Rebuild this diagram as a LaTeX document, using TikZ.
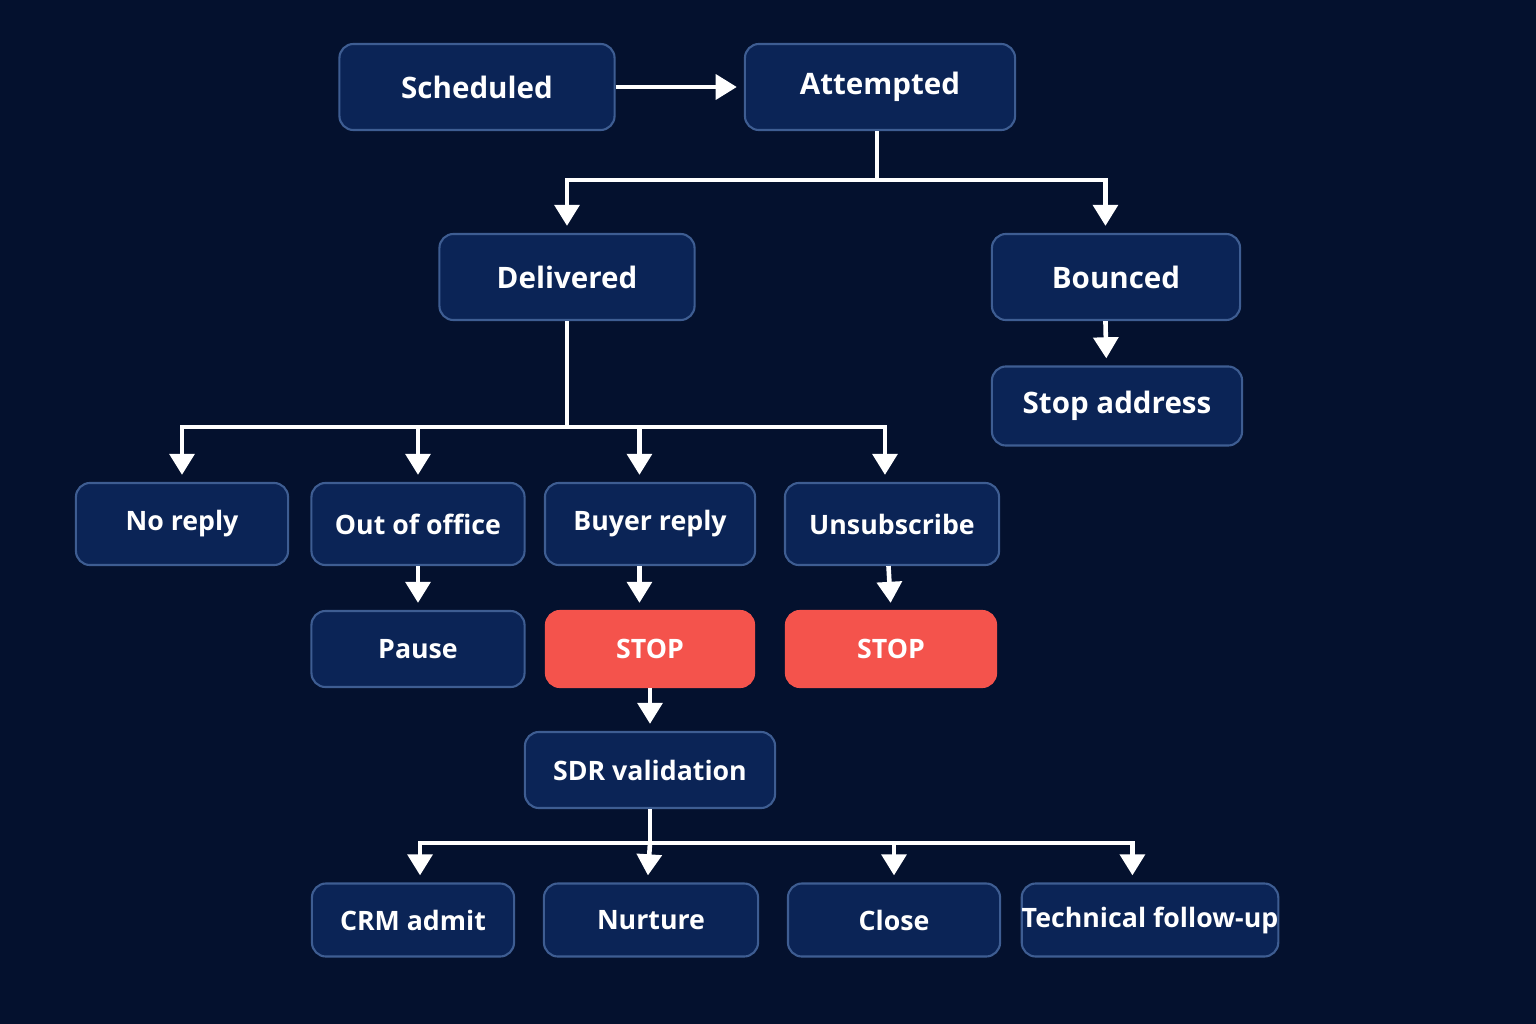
\documentclass[tikz,border=0pt]{standalone}
\usepackage{fontspec}
\setmainfont{Open Sans}
\usetikzlibrary{arrows.meta}
\definecolor{bgBlue}{HTML}{04112E}
\definecolor{boxBlue}{HTML}{0B2456}
\definecolor{boxLine}{HTML}{3E5D92}
\definecolor{stopRed}{HTML}{F4534C}
\tikzset{
  fState/.style={rectangle, rounded corners=4pt, draw=boxLine, line width=0.6pt, fill=boxBlue, text=white, font=\fontsize{7.6}{9}\selectfont\bfseries, inner sep=0pt},
  fBig/.style={fState, font=\fontsize{8.4}{10}\selectfont\bfseries},
  fStop/.style={fState, fill=stopRed, draw=stopRed},
  fArrow/.style={draw=white, line width=1.3pt, -{Triangle[length=6pt,width=7pt]}, shorten >=2pt},
  fLine/.style={draw=white, line width=1.3pt}
}
\begin{document}
\begin{tikzpicture}[x=0.01cm, y=-0.01cm]
    \fill[bgBlue] (0,0) rectangle (1536,1024);
    % top row
    \node (scheduled) [fBig, minimum width=2.75cm, minimum height=0.86cm] at (477,87) {Scheduled};
    \node (attempted) [fBig, minimum width=2.70cm, minimum height=0.86cm] at (880,87) {Attempted};
    \node (delivered) [fBig, minimum width=2.55cm, minimum height=0.86cm] at (567,277) {Delivered};
    \node (bounced) [fBig, minimum width=2.48cm, minimum height=0.86cm] at (1116,277) {Bounced};
    \node (stopAddress) [fBig, minimum width=2.50cm, minimum height=0.79cm] at (1117,406) {Stop address};
    % replies
    \node (noReply) [fState, minimum width=2.12cm, minimum height=0.82cm] at (182,524) {No reply};
    \node (outOffice) [fState, minimum width=2.13cm, minimum height=0.82cm] at (418,524) {Out of office};
    \node (buyerReply) [fState, minimum width=2.10cm, minimum height=0.82cm] at (650,524) {Buyer reply};
    \node (unsubscribe) [fState, minimum width=2.14cm, minimum height=0.82cm] at (892,524) {Unsubscribe};
    \node (pause) [fState, minimum width=2.13cm, minimum height=0.76cm] at (418,649) {Pause};
    \node (stopBuyer) [fStop, minimum width=2.08cm, minimum height=0.76cm] at (650,649) {STOP};
    \node (stopUnsub) [fStop, minimum width=2.10cm, minimum height=0.76cm] at (891,649) {STOP};
    \node (sdr) [fState, minimum width=2.50cm, minimum height=0.76cm] at (650,770) {SDR validation};
    % outcomes
    \node (crm) [fState, minimum width=2.02cm, minimum height=0.73cm] at (413,920) {CRM admit};
    \node (nurture) [fState, minimum width=2.14cm, minimum height=0.73cm] at (651,920) {Nurture};
    \node (close) [fState, minimum width=2.12cm, minimum height=0.73cm] at (894,920) {Close};
    \node (techFollow) [fState, minimum width=2.53cm, minimum height=0.73cm] at (1150,920) {Technical follow-up};

    \coordinate (jAtt) at (877,180);
    \coordinate (jDel) at (567,427);
    \coordinate (jSdr) at (650,843);

    \draw [fArrow] (scheduled) -- (attempted);
    \draw [fLine] (attempted.south -| jAtt) -- (jAtt);
    \draw [fArrow] (jAtt) -| (delivered.north);
    \draw [fArrow] (jAtt) -| ([xshift=-3]bounced.north);
    \draw [fArrow] ([xshift=-3]bounced.south) -- ([xshift=-3]stopAddress.north);
    \draw [fLine] (delivered.south) -- (jDel);
    \draw [fArrow] (jDel) -| (noReply.north);
    \draw [fArrow] (jDel) -| (outOffice.north);
    \draw [fArrow] (jDel) -| ([xshift=-3]buyerReply.north);
    \draw [fArrow] (jDel) -| ([xshift=-2]unsubscribe.north);
    \draw [fArrow] (outOffice) -- (pause);
    \draw [fArrow] ([xshift=-3]buyerReply.south) -- ([xshift=-3]stopBuyer.north);
    \draw [fArrow] ([xshift=-1]unsubscribe.south) -- (stopUnsub.north);
    \draw [fArrow] (stopBuyer) -- (sdr);
    \draw [fLine] (sdr.south) -- (jSdr);
    \draw [fArrow] (jSdr) -| ([xshift=2]crm.north);
    \draw [fArrow] (jSdr) -- ([xshift=-1]nurture.north);
    \draw [fArrow] (jSdr) -| (close.north);
    \draw [fArrow] (jSdr) -| ([xshift=-5]techFollow.north);
\end{tikzpicture}
\end{document}
